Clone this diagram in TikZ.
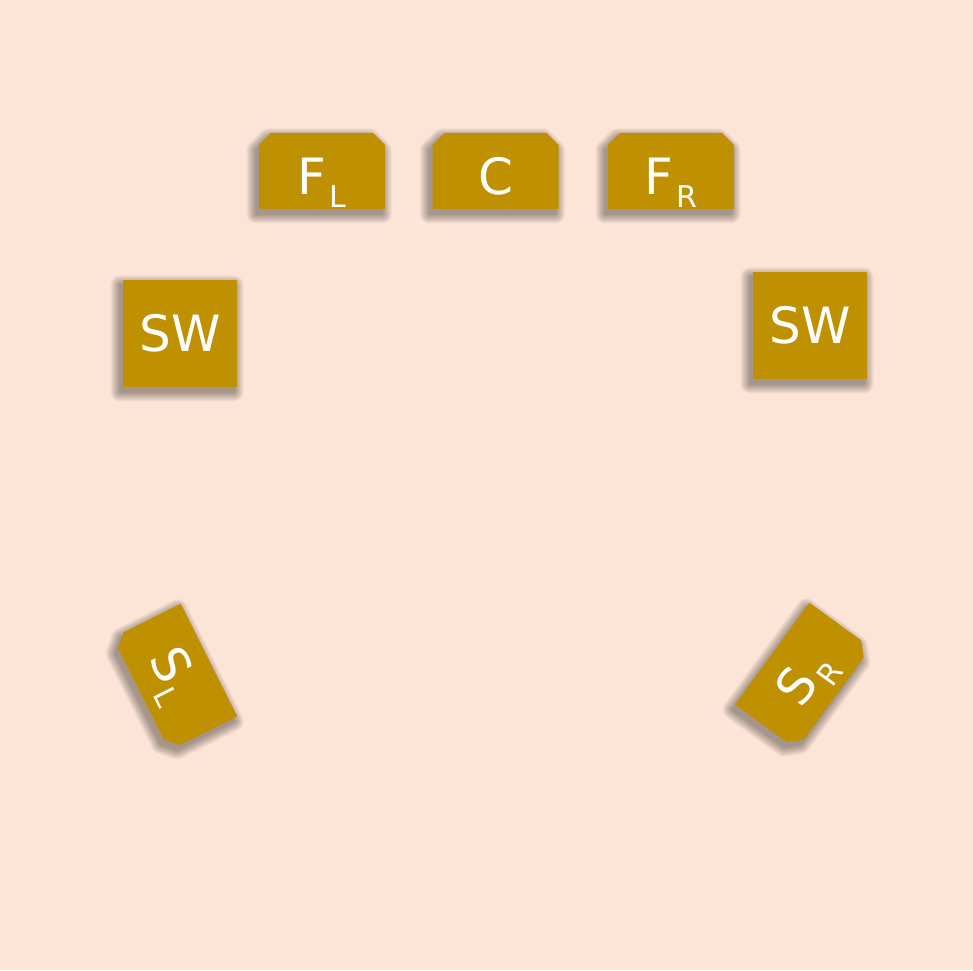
\documentclass[tikz,border=0pt]{standalone}
\usepackage{fontspec}
\setmainfont{DejaVu Sans}
\definecolor{bgc}{HTML}{FCE4D6}
\definecolor{spkc}{HTML}{BF9000}
\newcommand\spksub[1]{\kern3pt\raisebox{-13pt}{\fontsize{30}{30}\selectfont #1}}
\newcommand\softshadow[1]{%
  \foreach \w in {1,3,...,19}{%
    \begin{scope}[transparency group, opacity=0.04]
      \path[fill=black, draw=black, line width=\w pt, line join=round] #1;
    \end{scope}}}
\tikzset{
  boxstyle/.style={fill=spkc},
  lbl/.style={text=white, font=\fontsize{50}{50}\selectfont, inner sep=0pt},
}
\begin{document}
\begin{tikzpicture}[x=1pt,y=1pt]
\fill[bgc] (0,0) rectangle (973,970);
\useasboundingbox (0,0) rectangle (973,970);
% ---------- shadows (offset in screen space) ----------
\begin{scope}[shift={(-3,-5)}]
  \foreach \cx in {322,495.5,671}{
    \begin{scope}[shift={(\cx,799)}]
      \softshadow{(-63,-38) -- (-63,26) -- (-51,38) -- (51,38) -- (63,26) -- (63,-38) -- cycle}
    \end{scope}}
  \softshadow{(123,690) rectangle (237,583)}
  \softshadow{(753,698) rectangle (867,591)}
  \begin{scope}[shift={(175,293)}, rotate=-63.4]
    \softshadow{(-63,38) -- (-63,-26) -- (-51,-38) -- (51,-38) -- (63,-26) -- (63,38) -- cycle}
  \end{scope}
  \begin{scope}[shift={(803,294)}, rotate=54]
    \softshadow{(-63,38) -- (-63,-26) -- (-51,-38) -- (51,-38) -- (63,-26) -- (63,38) -- cycle}
  \end{scope}
\end{scope}
% ---------- front speakers ----------
\begin{scope}[shift={(322,799)}]
  \path[boxstyle] (-63,-38) -- (-63,26) -- (-51,38) -- (51,38) -- (63,26) -- (63,-38) -- cycle;
  \node[lbl, anchor=base] (fl) at (0,-24) {F\spksub{L}};
\end{scope}
\begin{scope}[shift={(495.5,799)}]
  \path[boxstyle] (-63,-38) -- (-63,26) -- (-51,38) -- (51,38) -- (63,26) -- (63,-38) -- cycle;
  \node[lbl, anchor=base] (c) at (0,-24) {C};
\end{scope}
\begin{scope}[shift={(671,799)}]
  \path[boxstyle] (-63,-38) -- (-63,26) -- (-51,38) -- (51,38) -- (63,26) -- (63,-38) -- cycle;
  \node[lbl, anchor=base] (fr) at (0,-24) {F\spksub{R}};
\end{scope}
% ---------- subwoofers ----------
\path[boxstyle] (123,690) rectangle (237,583);
\node[lbl] (swl) at (180,636.5) {SW};
\path[boxstyle] (753,698) rectangle (867,591);
\node[lbl] (swr) at (810,644.5) {SW};
% ---------- surround speakers (chamfers on the text-bottom side) ----------
\begin{scope}[shift={(175,293)}, rotate=-63.4]
  \path[boxstyle] (-63,38) -- (-63,-26) -- (-51,-38) -- (51,-38) -- (63,-26) -- (63,38) -- cycle;
  \node[lbl, anchor=base, rotate=-63.4] (sl) at (-3,-15) {S\spksub{L}};
\end{scope}
\begin{scope}[shift={(803,294)}, rotate=54]
  \path[boxstyle] (-63,38) -- (-63,-26) -- (-51,-38) -- (51,-38) -- (63,-26) -- (63,38) -- cycle;
  \node[lbl, anchor=base, rotate=54] (sr) at (0,-18) {S\spksub{R}};
\end{scope}
\end{tikzpicture}
\end{document}
